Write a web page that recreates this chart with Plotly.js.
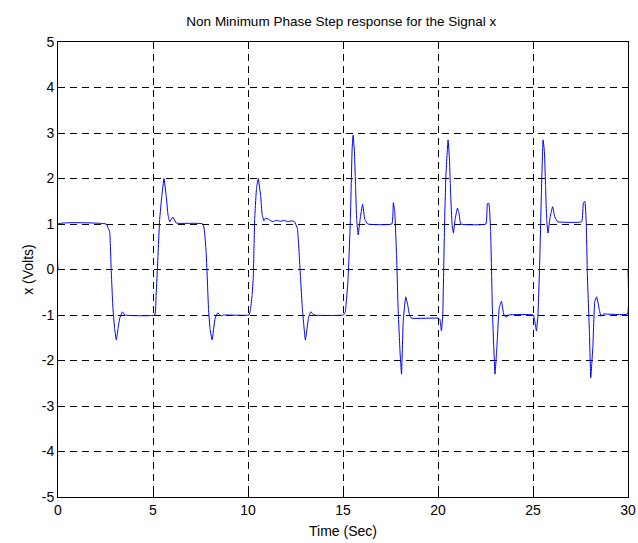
<!DOCTYPE html>
<html>
<head>
<meta charset="utf-8">
<script src="https://cdn.plot.ly/plotly-3.0.1.min.js"></script>
<style>html,body{margin:0;padding:0;background:#fff;}#chart{width:638px;height:543px;}</style>
</head>
<body>
<div id="chart"></div>
<script>
var timeSec = [0, 0.001, 2.54, 2.63, 2.72, 2.8, 2.89, 2.98, 3.07, 3.16, 3.25, 3.39, 3.52,
  5.09, 5.16, 5.23, 5.35, 5.46, 5.58, 5.7, 5.79, 5.88, 6.05, 6.23,
  7.63, 7.8, 7.92, 8.0, 8.11, 8.27, 8.41, 8.58, 8.75,
  10.05, 10.14, 10.22, 10.28, 10.35, 10.45, 10.54, 10.67, 10.74, 10.84, 10.92, 11.1, 11.3, 11.5, 11.7, 11.9, 12.1, 12.3, 12.45,
  12.6, 12.74, 12.86, 13.02, 13.18, 13.3, 13.47,
  15.02, 15.12, 15.26, 15.3, 15.39, 15.48, 15.53, 15.6, 15.66, 15.72, 15.8, 15.9, 16.03, 16.15, 16.3,
  17.57, 17.65, 17.72, 17.82, 17.9, 18.0, 18.08, 18.17, 18.3, 18.4, 18.5, 18.6,
  20.02, 20.1, 20.18, 20.25, 20.28, 20.35, 20.42, 20.53, 20.6, 20.67, 20.74, 20.81, 20.9, 21.02, 21.1, 21.2,
  22.52, 22.6, 22.68, 22.77, 22.86, 22.92, 23.0, 23.1, 23.22, 23.34, 23.47, 23.6, 23.7,
  25.02, 25.08, 25.18, 25.26, 25.35, 25.44, 25.53, 25.6, 25.66, 25.72, 25.79, 25.9, 26.03, 26.15, 26.3,
  27.56, 27.65, 27.73, 27.8, 27.86, 27.97, 28.04, 28.15, 28.25, 28.35, 28.5, 28.58, 28.7,
  29.97, 30];
var xVolts = [0, 1, 1, 0.92, 0.83, 0.0, -0.85, -1.3, -1.55, -1.3, -1.07, -0.93, -1.0,
  -1.0, -0.6, 0.0, 1.1, 1.6, 2.0, 1.6, 1.2, 1.05, 1.15, 1.02,
  1.0, 0.35, -0.85, -1.3, -1.55, -1.07, -0.95, -1.02, -1.0,
  -1.0, -0.85, -0.55, -0.17, 1.1, 1.8, 2.0, 1.6, 1.22, 1.07, 1.13, 1.1, 1.05, 1.08, 1.06, 1.08, 1.05, 1.07, 1.05,
  0.9, 0.0, -0.85, -1.55, -1.07, -0.93, -1.0,
  -1.0, -0.93, -0.25, 0.12, 1.1, 2.65, 2.95, 2.6, 1.85, 1.1, 0.76, 1.1, 1.43, 1.1, 1.0,
  1.0, 1.47, 1.3, 0.3, -0.85, -1.8, -2.3, -1.13, -0.6, -0.77, -1.0, -1.07,
  -1.07, -1.1, -1.35, -1.0, -0.45, 1.1, 2.1, 2.85, 2.45, 1.6, 1.0, 0.8, 1.1, 1.35, 1.25, 1.0,
  1.0, 1.45, 1.45, 0.83, -0.85, -1.55, -2.3, -1.7, -0.85, -0.7, -1.0, -1.05, -1.0,
  -1.0, -1.1, -1.35, -1.0, 0.12, 1.65, 2.85, 2.6, 1.85, 1.1, 0.8, 1.15, 1.38, 1.15, 1.05,
  1.05, 1.47, 1.5, 1.05, -0.1, -1.4, -2.38, -1.7, -0.7, -0.6, -0.9, -1.03, -0.98,
  -0.98, 0];
var xTicks = [0, 5, 10, 15, 20, 25, 30];
var yTicks = [-5, -4, -3, -2, -1, 0, 1, 2, 3, 4, 5];

var fontFam = 'Liberation Sans, Arial, sans-serif';
var axisCommon = {
  showline: true, linecolor: '#000', linewidth: 1, mirror: 'ticks',
  ticks: 'inside', ticklen: 5, tickcolor: '#000',
  showgrid: true, gridcolor: '#000', griddash: '7px,5px', gridwidth: 1,
  zeroline: false, tickfont: {family: fontFam, size: 14, color: '#000'}
};
var layout = {
  width: 638, height: 543,
  margin: {l: 58, r: 10, t: 42, b: 46},
  paper_bgcolor: '#fff', plot_bgcolor: '#fff',
  showlegend: false,
  title: {text: 'Non Minimum Phase Step response for the Signal x', font: {family: fontFam, size: 13.5, color: '#000'}, x: 0.535, xanchor: 'center', y: 0.96, yanchor: 'middle'},
  xaxis: Object.assign({}, axisCommon, {range: [0, 30], tickvals: xTicks, ticktext: xTicks.map(String),
    title: {text: 'Time (Sec)', font: {family: fontFam, size: 14, color: '#000'}, standoff: 9}}),
  yaxis: Object.assign({}, axisCommon, {range: [-5, 5], tickvals: yTicks, ticktext: yTicks.map(String),
    title: {text: 'x (Volts)', font: {family: fontFam, size: 14, color: '#000'}, standoff: 4}})
};
Plotly.newPlot('chart', [{
  x: timeSec, y: xVolts, type: 'scatter', mode: 'lines',
  line: {color: '#0000ff', width: 1, shape: 'spline', smoothing: 0.3}
}], layout, {staticPlot: true});
</script>
</body>
</html>
